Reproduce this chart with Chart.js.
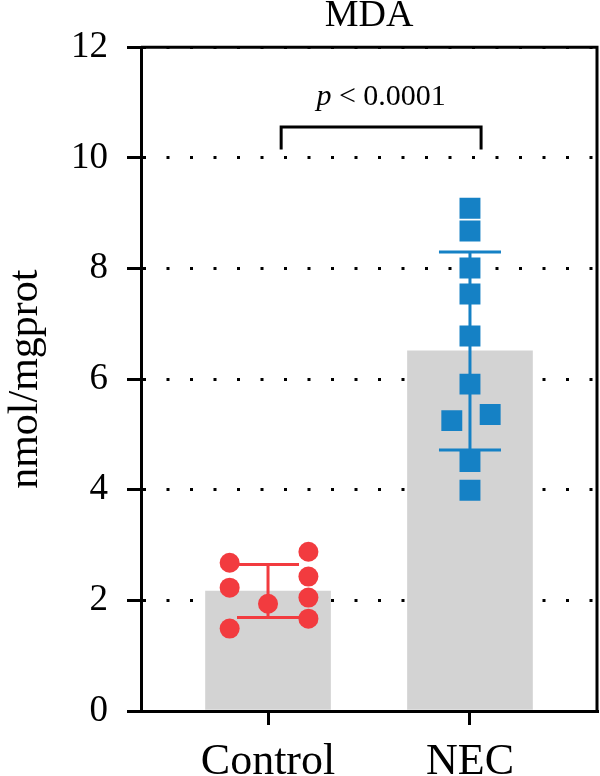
<!DOCTYPE html>
<html lang="en">
<head>
<meta charset="UTF-8">
<title>MDA</title>
<script src="https://cdn.jsdelivr.net/npm/chart.js"></script>
<style>
  html,body{margin:0;padding:0;background:#fff}
  canvas{display:block}
</style>
</head>
<body>
<canvas id="mda" width="600" height="776"></canvas>
<script>
/* ---------- data ---------- */
const groups   = ['Control', 'NEC'];
const barMeans = [2.17, 6.51];
const barSD    = [0.48, 1.79];

// x = group index + jitter, y = value
const controlX = [-0.19, -0.19, -0.19, 0, 0.2, 0.2, 0.2, 0.2];
const controlY = [2.68, 2.23, 1.49, 1.94, 2.88, 2.43, 2.05, 1.67];
const necX = [1, 1, 1, 1, 1, 1, 0.91, 1.1, 1, 1];
const necY = [9.09, 8.68, 8.01, 7.54, 6.78, 5.91, 5.25, 5.36, 4.51, 3.99];

const yTicks   = [0, 2, 4, 6, 8, 10, 12];
const bracketX = [0.065, 1.055];
const bracketY = [10.15, 10.56];
const pText    = ['p', ' < 0.0001'];

const RED  = '#f23b3f';
const BLUE = '#1581c5';
const GREY = '#d3d3d3';
const FONT = 'Liberation Serif';

Chart.defaults.font.family = FONT;
Chart.defaults.color = '#000';

/* ---------- plugins ---------- */
// SD error bars, drawn right after the bars so the dots sit on top
const errorBars = {
  id: 'errorBars',
  afterDatasetDraw(chart, args){
    if(args.index !== 0) return;
    const {ctx, scales:{x, y}} = chart;
    const colors = [RED, BLUE];
    ctx.save();
    ctx.lineWidth = 3;
    barMeans.forEach((m, i)=>{
      const px = x.getPixelForValue(i);
      const top = y.getPixelForValue(m + barSD[i]);
      const bot = y.getPixelForValue(m - barSD[i]);
      const half = 31;
      ctx.strokeStyle = colors[i];
      ctx.beginPath();
      ctx.moveTo(px, top); ctx.lineTo(px, bot);
      ctx.moveTo(px - half, top); ctx.lineTo(px + half, top);
      ctx.moveTo(px - half, bot); ctx.lineTo(px + half, bot);
      ctx.stroke();
    });
    ctx.restore();
  }
};

// closes the box (top and right edges) and writes the p value
const frameAndP = {
  id: 'frameAndP',
  afterDraw(chart){
    const {ctx, chartArea:a, scales:{x, y}} = chart;
    ctx.save();
    ctx.strokeStyle = '#000';
    ctx.lineWidth = 3;
    ctx.beginPath();
    ctx.moveTo(a.left, a.top);
    ctx.lineTo(a.right, a.top);
    ctx.lineTo(a.right, a.bottom);
    ctx.stroke();

    const cx = (x.getPixelForValue(bracketX[0]) + x.getPixelForValue(bracketX[1])) / 2;
    const base = y.getPixelForValue(bracketY[1]) - 22;
    const size = 30;
    ctx.fillStyle = '#000';
    ctx.textBaseline = 'alphabetic';
    ctx.textAlign = 'left';
    ctx.font = 'italic ' + size + 'px "' + FONT + '"';
    const w1 = ctx.measureText(pText[0]).width;
    ctx.font = size + 'px "' + FONT + '"';
    const w2 = ctx.measureText(pText[1]).width;
    const sx = cx - (w1 + w2) / 2;
    ctx.font = 'italic ' + size + 'px "' + FONT + '"';
    ctx.fillText(pText[0], sx, base);
    ctx.font = size + 'px "' + FONT + '"';
    ctx.fillText(pText[1], sx + w1, base);
    ctx.restore();
  }
};

/* ---------- chart ---------- */
new Chart(document.getElementById('mda'), {
  data: {
    datasets: [
      {
        type: 'bar',
        data: groups.map((g, i) => ({x: i, y: barMeans[i]})),
        backgroundColor: GREY,
        barThickness: 125,
        order: 10
      },
      {
        type: 'scatter',
        data: controlX.map((v, i) => ({x: v, y: controlY[i]})),
        pointStyle: 'circle',
        pointRadius: 10,
        pointBackgroundColor: RED,
        pointBorderWidth: 0,
        order: 0
      },
      {
        type: 'scatter',
        data: necX.map((v, i) => ({x: v, y: necY[i]})),
        pointStyle: 'rect',
        pointRadius: 14.8,
        pointBackgroundColor: BLUE,
        pointBorderWidth: 0,
        order: 0
      },
      {
        type: 'line',
        data: [
          {x: bracketX[0], y: bracketY[0]},
          {x: bracketX[0], y: bracketY[1]},
          {x: bracketX[1], y: bracketY[1]},
          {x: bracketX[1], y: bracketY[0]}
        ],
        borderColor: '#000',
        borderWidth: 3,
        pointRadius: 0,
        fill: false,
        tension: 0,
        order: 1
      }
    ]
  },
  options: {
    responsive: false,
    animation: false,
    layout: {autoPadding: false, padding: {top: 0, right: 3, left: 0, bottom: 0}},
    plugins: {
      legend: {display: false},
      tooltip: {enabled: false},
      title: {
        display: true,
        fullSize: false,
        text: 'MDA',
        color: '#000',
        font: {size: 38, weight: 'normal', lineHeight: 0.85},
        padding: {top: 0, bottom: 15}
      }
    },
    scales: {
      x: {
        type: 'linear',
        offset: false,
        min: -0.629,
        max: 1.629,
        afterBuildTicks: s => { s.ticks = groups.map((g, i) => ({value: i})); },
        afterFit: s => { s.height = 65; },
        ticks: {
          callback: v => groups[v],
          font: {size: 44},
          color: '#000',
          padding: 11
        },
        grid: {offset: false, drawOnChartArea: false, drawTicks: true, tickLength: 14, lineWidth: 3, color: '#000'},
        border: {width: 3, color: '#000'}
      },
      y: {
        min: 0,
        max: 12,
        afterBuildTicks: s => { s.ticks = yTicks.map(v => ({value: v})); },
        afterFit: s => { s.width = 141; },
        ticks: {font: {size: 37}, color: '#000', padding: 19},
        grid: {
          color: '#000',
          lineWidth: 3,
          tickBorderDash: [],
          tickLength: 14
        },
        border: {width: 3, color: '#000', dash: [3, 20.5]},
        title: {
          display: true,
          text: 'nmol/mgprot',
          font: {size: 42},
          color: '#000',
          padding: {top: 1, bottom: 0}
        }
      }
    }
  },
  plugins: [errorBars, frameAndP]
});
</script>
</body>
</html>
